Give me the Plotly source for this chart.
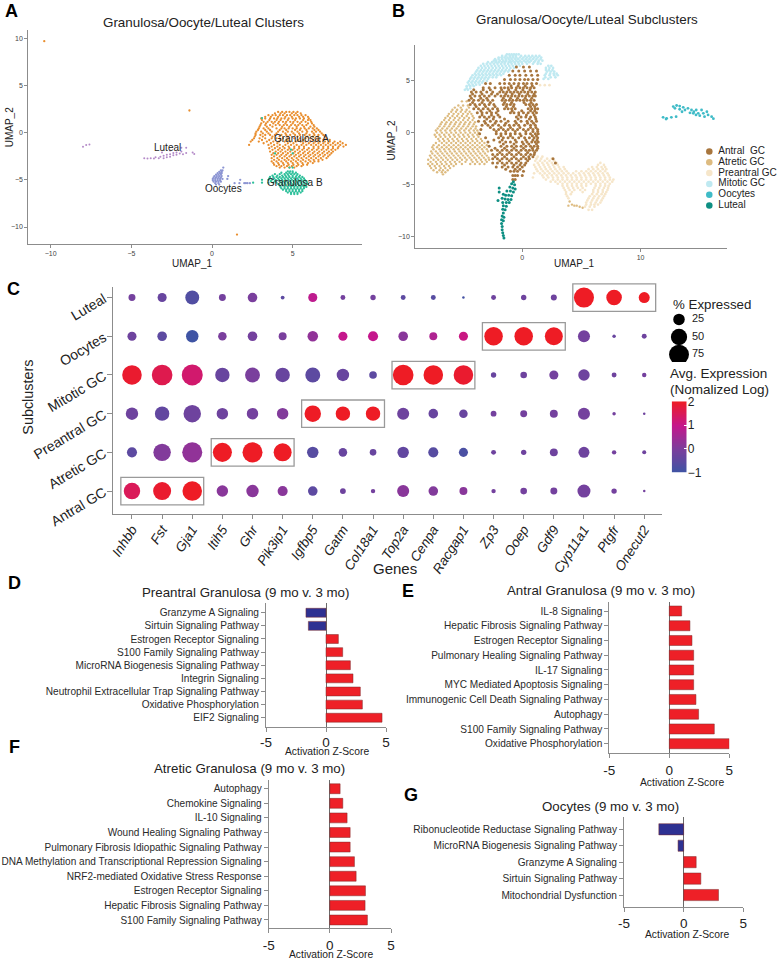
import plotly.graph_objects as go

W, H = 779, 960
FONT = "Liberation Sans"
INK = "#222222"
AXIS = "#8c8c8c"

# ---------- Panel A: UMAP points, as {UMAP_2: [UMAP_1, ...]} ----------
a_granulosa_a = {
 2.2:[4.1,4.35,4.6,4.8,5.05,5.3],
 2.05:[3.9,4.25,4.5,4.95,5.2,5.5],
 1.85:[3.5,3.75,3.95,4.2,4.4,4.65,4.85,5.1,5.3,5.55,5.8],
 1.68:[3.3,3.65,4.1,4.55,4.95,5.4,5.65,5.95],
 1.5:[3.05,3.3,3.6,3.85,4.05,4.3,4.5,4.75,5,5.2,5.45,5.7,6],
 1.33:[3.1,3.55,4,4.25,4.7,5.15,5.65,5.95,6.1],
 1.15:[3.2,3.45,3.7,3.9,4.15,4.4,4.6,4.85,5.05,5.3,5.55,5.8,6.15],
 .98:[3.05,3.35,3.8,4.1,4.55,5,5.45,5.95,6.2],
 .8:[3,3.3,3.6,3.95,4.2,4.45,4.65,4.9,5.15,5.35,5.6,5.85,6.3],
 .63:[2.95,3.4,3.75,4.35,4.8,5.25,5.7,6.1,6.35],
 .45:[2.9,3.2,3.5,4,4.3,4.5,4.75,5,5.25,5.5,5.75,6,6.25,6.5],
 .28:[2.85,3.3,3.6,4.2,4.6,5.15,5.45,5.85,6.35,6.6],
 .1:[2.75,3.05,3.4,3.7,4.1,4.4,4.7,4.95,5.3,5.6,5.9,6.2,6.45,6.7],
 -.08:[2.7,3.15,3.5,4,4.55,5.05,5.4,5.85,6.3,6.8],
 -.25:[2.7,3,3.3,3.6,3.9,4.3,4.6,4.85,5.15,5.45,5.75,6.05,6.35,6.6,6.9],
 -.42:[2.65,3.15,3.75,4.2,4.7,5.3,5.9,6.25,6.55,7],
 -.6:[2.6,2.95,3.3,3.7,4,4.4,4.75,5.1,5.45,5.8,6.1,6.4,6.7,7.1],
 -.78:[2.5,3.1,3.55,4.25,4.65,5.35,5.65,6.25,6.55,6.9,7.3],
 -.95:[2.4,2.9,3.4,3.8,4.15,4.5,4.85,5.2,5.5,5.8,6.1,6.4,6.7,7,7.3,7.6,7.95],
 -1.12:[3.2,3.65,4.05,4.7,5.05,5.65,6,6.3,6.6,6.9,7.2,7.5,7.8,8.1],
 -1.3:[2.3,3.5,3.85,4.2,4.55,4.9,5.25,5.55,5.85,6.15,6.45,6.75,7.05,7.35,7.65,7.95,8.3],
 -1.48:[3.7,4.05,4.4,4.75,5.1,5.4,5.7,6.3,6.6,6.9,7.2,7.5,7.85,8.15],
 -1.65:[3.55,3.9,4.2,4.5,4.8,5.1,5.4,5.7,6,6.3,6.6,6.9,7.2,7.5,7.8],
 -1.82:[3.75,4.1,4.35,4.7,5,5.3,5.6,5.9,6.2,6.5,6.8,7.1,7.4,7.65],
 -2:[3.6,3.95,4.25,4.55,4.85,5.15,5.45,5.75,6.05,6.35,6.65,6.95,7.25,7.5],
 -2.18:[3.8,4.1,4.4,4.7,5.05,5.35,5.65,5.95,6.25,6.55,6.85,7.15,7.4],
 -2.35:[3.7,4,4.3,4.6,4.9,5.2,5.5,5.8,6.1,6.4,6.7,7,7.3],
 -2.52:[3.85,4.2,4.5,4.8,5.1,5.4,5.7,6,6.3,6.6,6.9,7.2],
 -2.7:[3.7,4.05,4.35,4.65,4.95,5.25,5.55,5.85,6.15,6.45,6.75,7.1],
 -2.88:[3.85,4.15,4.5,4.75,5.05,5.35,5.65,6,6.3,6.6,6.85],
 -3.05:[3.7,4,4.3,4.6,4.9,5.2,5.5,5.8,6.1,6.35,6.6],
 -3.22:[3.8,4.1,4.4,4.7,5,5.3,5.6,5.95,6.25],
 -3.4:[3.85,4.15,4.45,4.75,5.05,5.35,5.65,5.9],
 -3.55:[4,4.3,4.65,4.95,5.25,5.55],
 -3.7:[4.2,4.5,4.8,5.1],
 9.7:[-10.4], 2.35:[-1.4], -10.8:[1.55],
}
a_granulosa_b = {
 -3.7:[4.8,5], -4.1:[4.7,4.85,5],
 -4.25:[4.3,4.6,4.8,5,5.2],
 -4.4:[3.9,4.2,4.5,4.7,4.9,5.1,5.3],
 -4.55:[3.75,4.05,4.35,4.55,4.75,5,5.25,5.45],
 -4.7:[3.6,3.8,4,4.2,4.4,4.6,4.8,5,5.2,5.4,5.6],
 -4.85:[3.55,3.85,4.1,4.3,4.5,4.7,4.9,5.1,5.3,5.5,5.7],
 -5:[3.1,3.5,3.7,3.95,4.15,4.35,4.55,4.75,4.95,5.15,5.35,5.55,5.75],
 -5.15:[3.65,3.9,4.2,4.4,4.6,4.85,5.05,5.25,5.45,5.65,5.85],
 -5.3:[2.55,3.1,3.5,3.8,4,4.3,4.5,4.7,4.9,5.1,5.3,5.5,5.7,5.9],
 -5.45:[4.1,4.35,4.55,4.75,4.95,5.15,5.35,5.55,5.75,5.95],
 -5.6:[4.2,4.4,4.6,4.8,5,5.2,5.4,5.6,5.8],
 -5.75:[4.25,4.5,4.7,4.9,5.1,5.3,5.5,5.7,5.85],
 -5.9:[4.3,4.5,4.7,4.9,5.1,5.3,5.5,5.7],
 -6.05:[4.4,4.6,4.8,5,5.2,5.4,5.6],
 -6.2:[4.6,4.8,5,5.2,5.4,5.6],
 -6.35:[4.7,4.9,5.1,5.3,5.5],
 -6.5:[4.9,5.1,5.3],
 1.55:[3.1], -2.2:[5,3.9], -1.8:[4.9],
}
a_oocytes = {
 -3.7:[.7], -4:[.55,.65], -4.15:[.45,.6], -4.3:[.35,.5,.6], -4.45:[.25,.4,.55], -4.6:[.15,.3,.45,.6,1],
 -4.75:[.1,.25,.4,.55], -4.9:[.05,.2,.35,.5,.65,.95], -5:[1.75], -5.05:[.05,.2,.35,.5], -5.2:[.1,.25,.4,.55],
 -5.35:[.2,.4,1.4,1.7,2,2.1,2.2,2.35], -5.5:[.25,.45],
}
a_luteal = {
 -2.75:[-4,-3.6], -2.7:[-4.2,-3.8,-3.3,-3], -2.6:[-3.5,-2.8], -2.55:[-3.2,-2.6],
 -2.45:[-3], -2.4:[-2.4], -2.35:[-2.8,-2.2], -2.3:[-2.6,-1.8], -2.25:[-1.1],
 -2.2:[-2], -2.15:[-2.4,-1.6], -2.1:[-2.2,-3.1,-1.2], -2:[-1.9], -1.9:[-2.6],
 -1.6:[-1.9,-1.6], -1.5:[-8], -1.3:[-7.8], -1.25:[-7.6],
}

# ---------- Panel B: UMAP points, as {UMAP_2: [UMAP_1, ...]} ----------
b_antral = {
 6.3:[-.5,.1,.6], 5.9:[-.8,-.3,.2,.7,1.2], 5.5:[-1.1,-.6,-.2,.3,.8,1.3],
 5.1:[-1.5,-1,-.6,-.2,.2,.5,.9,1.3],
 4.7:[-3.1,-2.7,-1.9,-1.5,-1.1,-.7,-.3,.1,.4,.8,1.2],
 4.5:[-.95,-.35,.25,.85],
 4.3:[-3.3,-2.8,-2.3,-1.8,-1.5,-1.2,-.9,-.5,-.2,.1,.4,.7,1],
 4.1:[-4.1,-3.3,-2.7,-1.75,-1.15,-.55,.05,.65],
 3.9:[-4.3,-3.9,-3.5,-3,-2.5,-1.9,-1.6,-1.3,-1,-.7,-.4,-.1,.2,.5,.8,1.1],
 3.7:[-4.2,-3.4,-2.6,-2.1,-1.4,-.85,-.25,.45,1],
 3.5:[-4.4,-4,-3.6,-3.2,-2.8,-2.3,-1.8,-1.5,-1.2,-.9,-.6,-.3,0,.3,.6,.9,1.1],
 3.3:[-4.3,-3.5,-3,-1.6,-1,-.4,.25,.8],
 3.1:[-4.5,-4.1,-3.7,-3.3,-2.9,-2.5,-1.7,-1.4,-1.1,-.8,-.5,-.2,.1,.4,.7,1],
 2.9:[-4.2,-3.4,-2.7,-1.5,-.9,.15,.75],
 2.7:[-4.4,-4,-3.6,-3.2,-2.8,-2.4,-1.6,-1.3,-1,-.7,.3,.6,.9,1.2],
 2.5:[-3.9,-3.1,-2.3,-1.35,-.75,.7,1.05],
 2.3:[-4.1,-3.7,-3.3,-2.9,-2.5,-2.1,-1.5,-1.2,-.9,-.6,.5,.8,1.1,1.3],
 2.1:[-3.5,-2.75,-2.05,-.85,-.05,.7,1.05],
 1.9:[-3.8,-3.4,-3,-2.6,-2.2,-1,-.7,-.3,.1,.5,.9,1.2],
 1.7:[-3.4,-2.6,-2.05,-.3,.35,1],
 1.5:[-3.6,-3.2,-2.8,-2.4,-1.9,-.5,-.1,.3,.7,1.1],
 1.3:[-3,-2.45,-1.5,-.35,.6,1.15],
 1.1:[-3.7,-3.2,-2.7,-2.2,-1.8,-1.2,-.6,-.1,.4,.8,1.2],
 .9:[-3.1,-2.3,-1.4,-.5,.45,.95],
 .7:[-3.4,-2.9,-2.5,-2,-1.5,-1.1,-.7,-.3,.2,.7,1.1],
 .5:[-2.7,-1.8,-1,-.2,.7,1.15],
 .3:[-3.5,-2.4,-2,-1.6,-1.2,-.8,-.4,.1,.5,.9,1.3],
 .1:[-2.2,-1.4,-.6,.3,.9,1.3],
 -.1:[-3.6,-2.2,-1.8,-1.4,-1,-.6,-.2,.3,.7,1.1,1.35],
 -.3:[-1.8,-1,-.1,.85,1.2],
 -.5:[-3.1,-2,-1.6,-1.2,-.8,-.3,.2,.6,1,1.3],
 -.7:[-2.4,-1.7,-.6,.3,.9,1.25],
 -.9:[-2.9,-1.9,-1.4,-1,-.5,0,.4,.8,1.1,1.35],
 -1.1:[-1.6,-.7,.1,.55,1.2],
 -1.3:[-2.8,-1.8,-1.3,-.9,-.5,-.1,.3,.7,1,1.3],
 -1.5:[-2.3,-1.5,-.7,.1,.85,1.3],
 -1.7:[-2.6,-2.1,-1.7,-1.3,-.9,-.5,-.1,.3,.6,.9,1.2],
 -1.9:[-1.9,-1.1,-.3,.45,1.05],
 -2.1:[-2.5,-2.1,-1.7,-1.3,-.9,-.5,-.1,.3,.7,1],
 -2.3:[-2.3,-1.5,-.7,.1,.55,.9],
 -2.5:[-2.5,-2.1,-1.7,-1.3,-.9,-.5,-.1,.3,.6,2.6],
 -2.7:[-1.9,-1.1,-.3,.45],
 -2.9:[-2.5,-2.1,-1.7,-1.3,-.9,-.5,-.1,.3,2.8],
 -3.1:[-1.5,-.7,-.2,.2],
 -3.3:[-2.2,-1.7,-1.2,-.8,-.4,0],
 -3.5:[-1.4,-.6,-.2],
 -3.7:[-1,-.7,-.4,.1], -4.1:[-.8,-.6,-.4,0], -4.5:[-.8,-.6],
}
b_atretic = {
 3:[-5.1,-4.7], 2.6:[-5.4,-5,-4.6], 2.4:[-5.7,-5.2,-4.5], 2.2:[-5.9,-5.5,-5.1,-4.7],
 2:[-6,-5.6,-5.2,-4.8,-4.45],
 1.8:[-6.2,-5.8,-5.4,-5,-4.6,-4.3],
 1.6:[-6.3,-5.9,-5.5,-5.1,-4.7,-4.2],
 1.4:[-6.5,-6.1,-5.7,-5.3,-4.9,-4.5,-4.1],
 1.2:[-6.6,-6.2,-5.8,-5.4,-5,-4.6,-4.2],
 1:[-6.8,-6.4,-6,-5.6,-5.2,-4.8,-4.4,-4],
 .8:[-6.9,-6.5,-6.1,-5.7,-5.3,-4.9,-4.5,-4.1],
 .6:[-7,-6.6,-6.2,-5.8,-5.4,-5,-4.6,-4.2,-3.9],
 .4:[-7.15,-6.75,-6.35,-5.95,-5.55,-5.15,-4.75,-4.35,-3.95],
 .2:[-7.3,-6.9,-6.5,-6.1,-5.7,-5.3,-4.9,-4.5,-4.1,-3.8],
 0:[-7.2,-6.8,-6.4,-6,-5.6,-5.2,-4.8,-4.4,-4,-3.7],
 -.2:[-7.4,-7,-6.6,-6.2,-5.8,-5.4,-5,-4.6,-4.2,-3.8],
 -.4:[-7.3,-6.9,-6.5,-6.1,-5.7,-5.3,-4.9,-4.5,-4.1,-3.7],
 -.6:[-7.1,-6.7,-6.3,-5.9,-5.5,-5.1,-4.7,-4.3,-3.9,-3.5],
 -.8:[-7,-6.6,-6.2,-5.8,-5.4,-5,-4.6,-4.2,-3.8,-3.4],
 -1:[-7.3,-6.8,-6.4,-6,-5.6,-5.2,-4.8,-4.4,-4,-3.6,-3.2],
 -1.2:[-7.5,-7.05,-6.6,-6.2,-5.8,-5.4,-5,-4.6,-4.2,-3.8,-3.4,-3],
 -1.4:[-7.6,-7.2,-6.8,-6.4,-6,-5.6,-5.2,-4.8,-4.4,-4,-3.6,-3.2],
 -1.6:[-7.5,-7,-6.6,-6.2,-5.8,-5.4,-5,-4.6,-4.2,-3.8,-3.4,-3],
 -1.8:[-7.7,-7.3,-6.9,-6.5,-6.1,-5.7,-5.3,-4.9,-4.5,-4.1,-3.7,-3.3,-2.9],
 -2:[-7.6,-7.15,-6.75,-6.35,-5.95,-5.55,-5.15,-4.75,-4.35,-3.95,-3.55,-3.15],
 -2.2:[-7.8,-7.4,-7,-6.6,-6.2,-5.8,-5.4,-5,-4.6,-4.2,-3.8,-3.4,-3],
 -2.4:[-7.7,-7.25,-6.85,-6.45,-6.05,-5.65,-5.25,-4.85,-4.45,-4.05,-3.65,-3.25,-2.85],
 -2.6:[-7.95,-7.5,-7.1,-6.7,-6.3,-5.9,-5.5,-5.1,-4.7,-4.3,-3.9,-3.5,-3.1,-2.8],
 -2.8:[-7.75,-7.3,-6.9,-6.5,-6.1,-5.7,-5.3,-4.8,-4.2,-3.8,-3.4,-3],
 -3:[-7.95,-7.6,-7.2,-6.8,-6.4,-6,-5.6,-5.1,-4.4,-4,-3.6,-3.2],
 -3.2:[-7.8,-7.4,-7,-6.6,-6.2,-5.8],
 -3.4:[-7.7,-7.3,-6.9,-6.5,-6.1], -3.6:[-7.5,-7,-6.7,-6.3], -3.8:[-7.2,-6.8,-6.5], -4:[-6.7],
 -6.6:[4], -6.9:[4.2], -7:[3.9,4.4,4.6], -7.1:[4.85], -7.2:[5.1],
}
b_preantral = {
 4.55:[1.5,1.9,2.3],
 -2.3:[1.3,1.7], -2.5:[1.2,1.6,2.1,2.5], -2.7:[1.1,1.5,1.9,2.3,2.7],
 -2.9:[1.3,1.7,2.1,2.5,2.9,6.6],
 -3.1:[1,1.4,1.8,2.2,2.6,3,6.4,6.9],
 -3.3:[1.1,1.5,1.9,2.3,2.7,3.1,3.5,5.9,6.3,6.7,7],
 -3.5:[1.2,1.6,2,2.4,2.8,3.2,3.6,5.6,6,6.4,6.8,7.1],
 -3.7:[1.3,1.75,2.15,2.55,2.95,3.35,3.75,4.55,5,5.4,5.8,6.2,6.6,7],
 -3.9:[1,1.5,1.9,2.3,2.7,3.1,3.5,3.9,4.3,4.8,5.2,5.6,6,6.4,6.8,7.2],
 -4.1:[1.7,2.1,2.5,2.9,3.3,3.7,4.1,4.5,4.9,5.3,5.7,6.1,6.5,6.9,7.3],
 -4.3:[.9,1.8,2.2,2.6,3,3.4,3.8,4.2,4.6,5,5.4,5.8,6.2,6.6,7,7.4],
 -4.5:[2,2.6,3,3.4,3.8,4.2,4.6,5,5.4,5.8,6.2,6.6,7,7.4,7.7],
 -4.7:[2.4,2.8,3.2,3.6,4,4.4,4.8,5.2,5.6,6,6.4,6.8,7.2,7.6],
 -4.9:[3,3.4,3.8,4.2,4.6,5,5.4,5.8,6.2,6.6,7,7.4],
 -5.1:[3.4,3.8,4.2,4.6,5,5.4,6.2,6.6,7,7.3],
 -5.3:[3.5,3.9,4.3,4.7,5.1,6.1,6.5,6.9,7.25],
 -5.5:[3.6,4,4.4,4.9,5.3,6,6.4,6.8,7.2],
 -5.7:[3.7,4.2,5.1,6,6.4,6.8,7.1],
 -5.9:[3.7,4.1,5.9,6.3,6.7,7], -6.1:[3.8,5.7,6.1,6.5,6.9], -6.3:[3.9,5.6,6,6.4,6.8],
 -6.5:[5.5,5.9,6.3,6.7], -6.7:[5.4,5.8,6.2,6.6], -6.9:[5.4,5.8,6.1,6.4], -7.1:[5.3,5.7,6.1], -7.4:[5.6,5.9],
}
b_mitotic = {
 7.5:[-1.3,-1.1,-.9,-.7,-.5,-.3],
 7.35:[-1.7,-1.4,-1.05,-.8,-.55,-.1,.25,.55,.85,1.15,1.45],
 7.2:[-2,-1.75,-1.5,-1.25,-1,-.75,-.5,-.2,.1,.4,.7,1,1.3,1.6],
 7.05:[-2.3,-2,-1.7,-1.4,-1.15,-.9,-.6,-.35,0,.3,.6,.9,1.2,1.55],
 6.9:[-2.4,-2.2,-1.9,-1.6,-1.35,-1.05,-.8,-.5,-.2,.15,.45,.75,1.1,1.4,1.7],
 6.75:[-2.9,-2.55,-2.25,-2,-1.7,-1.45,-1.15,-.95,-.65,-.35,-.05,.3,.6,1,1.35],
 6.6:[-3.3,-3,-2.7,-2.4,-2.1,-1.8,-1.5,-1.2,-.9,-.6,-.3,0,.4,.9,1.3,1.55],
 6.4:[-3.5,-3.2,-2.9,-2.6,-2.3,-2,-1.7,-1.4,-1.1,-.8,-.5,-.2,2.2,2.45],
 6.2:[-3.7,-3.4,-3.1,-2.8,-2.5,-2.2,-1.9,-1.6,-1.3,-1,-.7,2,2.3,2.6],
 6:[-3.8,-3.5,-3.2,-2.9,-2.6,-2.3,-2,-1.7,-1.4,-1.1,2,2.25,2.55],
 5.85:[-3.9,-3.6,-3.3,-3,-2.7,-2.4,-2.1,-1.8,-1.5,-1.2,2.1,2.4,2.7],
 5.65:[-4,-3.7,-3.4,-3.1,-2.8,-2.5,-2.2,-1.9,-1.6,2,2.35,2.65,2.9],
 5.5:[-4.2,-3.9,-3.6,-3.3,-3,-2.7,-2.4,-2.1,-1.8,1.9,2.3,2.7,3],
 5.3:[-4.3,-4,-3.7,-3.4,-3.1,-2.8,-2.5,-2.2,1.95,2.4,2.8],
 5.15:[-4.4,-4.1,-3.8,-3.5,-3.2,-2.9,1.8,2.2],
 4.95:[-4.5,-4.2,-3.9,-3.6,-3.3,-3],
 4.8:[-4.6,-4.3,-4,-3.7,-3.4], 4.6:[-4.5,-4.2,-3.9,-3.6], 4.45:[-4.7,-4.4,-4.1], 4.25:[-4.7,-4.4], 4.1:[-4.85,-4.6],
}
b_oocytes = {
 2.6:[13.04], 2.55:[13.3], 2.5:[12.76], 2.43:[13.6], 2.33:[12.9,14], 2.24:[13.3],
 2.17:[13.75,14.3,14.7,15.15], 2:[15.6,14.5,13.5], 1.9:[14.17], 1.85:[14.45,14.87,15.3],
 1.7:[14.68,15.7], 1.63:[15], 1.53:[13,15.4,16], 1.47:[11.9,12.6],
 1.37:[12.2], 1.34:[16.15], 1.3:[12.15],
}
b_luteal = {
 -4.7:[-.75], -4.9:[-.9], -5:[-.65], -5.2:[-1.05], -5.3:[-.8,-1.95], -5.4:[-.6],
 -5.6:[-1.3,-1], -5.7:[-.75,-1.95], -5.9:[-1.6], -6:[-1.4,-1.15], -6.05:[-.9],
 -6.3:[-1.7], -6.35:[-1.45], -6.4:[-1.2,-.95], -6.5:[-2.05], -6.7:[-1.65,-1.35,-1.1],
 -7:[-1.6], -7.05:[-1.35], -7.35:[-1.65], -7.4:[-1.45], -7.7:[-1.6], -8:[-1.7],
 -8.1:[-1.55], -8.35:[-1.75], -8.45:[-1.6], -8.7:[-1.75], -9:[-1.7], -9.3:[-1.7],
 -9.6:[-1.65], -9.85:[-1.6], -10.1:[-1.55],
}
subcluster_names = ["Antral\u00a0 GC", "Atretic GC", "Preantral GC", "Mitotic GC", "Oocytes", "Luteal"]

# ---------- Panel C: dot plot ----------
genes = ["Inhbb","Fst","Gja1","Itih5","Ghr","Pik3ip1","Igfbp5","Gatm","Col18a1","Top2a",
         "Cenpa","Racgap1","Zp3","Ooep","Gdf9","Cyp11a1","Ptgfr","Onecut2"]
subclusters = ["Antral GC","Atretic GC","Preantral GC","Mitotic GC","Oocytes","Luteal"]
pct_expressed = [
 [56,67,79,27,32,21,19,7,4,30,19,13,4,9,10,35,6,1.3],
 [21,63,83,75,83,67,27,15,9,27,21,17,5,6,13,25,4,3.3],
 [32,43,63,27,27,27,56,43,43,30,19,15,7,10,13,30,2.5,1.3],
 [79,88,91,43,46,43,46,32,12,88,79,79,6,9,17,27,5,4],
 [17,19,32,15,19,13,23,17,21,19,13,17,71,71,67,30,2.5,5],
 [10,17,40,10,19,3,17,5,6,5,5,1.3,5,6,7.5,83,50,25],
]
avg_expression = [
 [1.5,1.9,2,.2,.2,.2,-.5,-.2,-.1,.2,.1,.2,-.1,-.1,-.1,-.1,-.1,-.1],
 [-.5,.1,.3,2,2,2,-.6,-.3,-.3,-.4,-.6,-.8,-.2,-.2,-.2,-.2,-.1,-.2],
 [-.2,-.4,-.2,-.2,-.1,.1,2,2,2,-.2,-.3,-.3,-.1,-.1,-.1,-.1,-.1,-.2],
 [1.9,1.6,1.3,-.3,0,-.3,-.5,-.3,-.5,2,2,1.9,-.3,-.2,-.1,-.2,-.2,-.1],
 [-.2,-.5,-1,0,-.1,0,.3,1,1,.2,.7,1.1,2,2,2,-.1,-.3,-.2],
 [-.1,-.3,-.7,-.1,0,-.5,.9,-.1,-.1,-.5,-.6,-.9,-.2,-.2,-.2,2,2,2],
]
highlight_groups = [(0,0,2),(1,3,5),(2,6,8),(3,9,11),(4,12,14),(5,15,17)]
size_legend_pct = [25,50,75]
scale_levels = [-1,-.75,-.5,-.25,0,.25,.5,.75,1,1.25,1.5,1.75,2]

# ---------- Panels D-G: activation z-scores ----------
d_paths = ["Granzyme A Signaling","Sirtuin Signaling Pathway","Estrogen Receptor Signaling",
           "S100 Family Signaling Pathway","MicroRNA Biogenesis Signaling Pathway","Integrin Signaling",
           "Neutrophil Extracellular Trap Signaling Pathway","Oxidative Phosphorylation","EIF2 Signaling"]
d_vals = [-1.67,-1.47,1.03,1.39,2.03,2.25,2.86,3.03,4.67]
e_paths = ["IL-8 Signaling","Hepatic Fibrosis Signaling Pathway","Estrogen Receptor Signaling",
           "Pulmonary Healing Signaling Pathway","IL-17 Signaling","MYC Mediated Apoptosis Signaling",
           "Immunogenic Cell Death Signaling Pathway","Autophagy","S100 Family Signaling Pathway",
           "Oxidative Phosphorylation"]
e_vals = [1.03,1.72,1.89,2.03,2.03,2.03,2.22,2.44,3.75,5.0]
f_paths = ["Autophagy","Chemokine Signaling","IL-10 Signaling","Wound Healing Signaling Pathway",
           "Pulmonary Fibrosis Idiopathic Signaling Pathway","DNA Methylation and Transcriptional Repression Signaling",
           "NRF2-mediated Oxidative Stress Response","Estrogen Receptor Signaling",
           "Hepatic Fibrosis Signaling Pathway","S100 Family Signaling Pathway"]
f_vals = [.84,1.06,1.41,1.66,1.66,2.01,2.15,2.91,2.88,3.07]
g_paths = ["Ribonucleotide Reductase Signaling Pathway","MicroRNA Biogenesis Signaling Pathway",
           "Granzyme A Signaling","Sirtuin Signaling Pathway","Mitochondrial Dysfunction"]
g_vals = [-2.08,-.47,1.05,1.44,2.92]


def flat(rows):
    xs, ys = [], []
    for y, row in rows.items():
        for x in row:
            xs.append(x); ys.append(y)
    return xs, ys


fig = go.Figure()
layout = {}
axis_no = [0]


def add_axes(left, right, top, bottom, xr, yr, **kw):
    axis_no[0] += 1
    n = axis_no[0]
    sx = "" if n == 1 else str(n)
    xa = dict(domain=[left/W, right/W], range=xr, anchor="y"+sx, showgrid=False, zeroline=False,
              showline=True, linecolor=AXIS, linewidth=1, ticks="outside", tickcolor=AXIS, ticklen=3,
              tickfont=dict(family=FONT, size=7, color="#444444"), fixedrange=True)
    ya = dict(domain=[1-bottom/H, 1-top/H], range=yr, anchor="x"+sx, showgrid=False, zeroline=False,
              showline=True, linecolor=AXIS, linewidth=1, ticks="outside", tickcolor=AXIS, ticklen=3,
              tickfont=dict(family=FONT, size=7, color="#444444"), fixedrange=True)
    xa.update(kw.get("x", {})); ya.update(kw.get("y", {}))
    layout["xaxis"+sx] = xa
    layout["yaxis"+sx] = ya
    return "x"+sx, "y"+sx


annotations = []


def text(px, py, s, size, color=INK, bold=False, angle=0, anchor="center"):
    annotations.append(dict(xref="paper", yref="paper", x=px/W, y=1-py/H, text=f"<b>{s}</b>" if bold else s,
                            showarrow=False, xanchor=anchor, yanchor="middle", textangle=angle,
                            font=dict(family=FONT, size=size, color=color)))


def scatter(xa, ya, rows, color, size):
    xs, ys = flat(rows)
    fig.add_trace(go.Scatter(x=xs, y=ys, xaxis=xa, yaxis=ya, mode="markers", showlegend=False, hoverinfo="skip",
                             marker=dict(color=color, size=size, line=dict(width=0))))


# Panel A
xa, ya = add_axes(28.3, 362, 30, 244, [-11.39, 9.3], [-11.8, 10.88],
                  x=dict(tickvals=[-10,-5,0,5]), y=dict(tickvals=[-10,-5,0,5,10]))
scatter(xa, ya, a_granulosa_a, "#E98E2E", 2.3)
scatter(xa, ya, a_granulosa_b, "#2FC09B", 2.3)
scatter(xa, ya, a_oocytes, "#8C95D3", 2.3)
scatter(xa, ya, a_luteal, "#B48AC8", 2)
for s, x, y in [("Granulosa A",5.55,-.6),("Granulosa B",5.17,-5.26),("Luteal",-2.77,-1.52),("Oocytes",.7,-5.97)]:
    annotations.append(dict(xref=xa, yref=ya, x=x, y=y, text=s, showarrow=False,
                            font=dict(family=FONT, size=10, color="#222222")))
text(203, 22, "Granulosa/Oocyte/Luteal Clusters", 13.4)
text(192, 263, "UMAP_1", 10)
text(9.3, 127, "UMAP_2", 10, angle=-90)

# Panel B
xa, ya = add_axes(415.3, 727, 45, 247.7, [-9.04, 17.3], [-11.03, 8.4],
                  x=dict(tickvals=[0,10]), y=dict(tickvals=[-10,-5,0,5]))
b_colors = ["#A8763E","#DDBB80","#F6E6CA","#BFE9F1","#3FBBC7","#0E8F83"]
for rows, c, s in zip([b_atretic,b_preantral,b_mitotic,b_antral,b_oocytes,b_luteal],
                      [b_colors[1],b_colors[2],b_colors[3],b_colors[0],b_colors[4],b_colors[5]],
                      [2.4,2.7,2.7,3,2.8,3]):
    scatter(xa, ya, rows, c, s)
text(587, 19.3, "Granulosa/Oocyte/Luteal Subclusters", 13.4)
text(574.3, 263.3, "UMAP_1", 10)
text(391.5, 141, "UMAP_2", 10, angle=-90)
# Panel B key
xa, ya = add_axes(704, 779, 146, 211, [0, 75], [5.5, -0.5],
                  x=dict(visible=False), y=dict(visible=False))
fig.add_trace(go.Scatter(x=[5.3]*6, y=list(range(6)), xaxis=xa, yaxis=ya, mode="markers+text", showlegend=False,
                         hoverinfo="skip", text=["&#8201;&#8201;"+s for s in subcluster_names], textposition="middle right",
                         textfont=dict(family=FONT, size=10, color=INK),
                         marker=dict(color=b_colors, size=6.5, line=dict(width=0))))

# Panel C: an invisible taller copy of the axes carries the boxes, so the top box is not clipped
box_x, box_y = add_axes(112.7, 662.3, 282, 514.3, [-0.64, 17.6], [-0.6, 5.406],
                        x=dict(visible=False), y=dict(visible=False))
xa, ya = add_axes(112.7, 662.3, 286.7, 514.3, [-0.64, 17.6], [-0.6, 5.28],
    x=dict(tickvals=list(range(18)), ticktext=genes, tickangle=-57, ticklen=4, ticklabelstandoff=-3,
           tickfont=dict(family=FONT, size=13.5, style="italic", color=INK)),
    y=dict(tickvals=list(range(6)), ticktext=subclusters, tickangle=-31, ticklen=5,
           tickfont=dict(family=FONT, size=14, color=INK)))
colorscale = [[0,"#3F54A4"],[1/3,"#7A3F9D"],[2/3,"#C5178C"],[1,"#EE1C25"]]
dot_x, dot_y, dot_s, dot_c = [], [], [], []
for r, (pcts, vals) in enumerate(zip(pct_expressed, avg_expression)):
    for g, (p, v) in enumerate(zip(pcts, vals)):
        dot_x.append(g); dot_y.append(r); dot_s.append(2.2*p**0.5); dot_c.append(v)
fig.add_trace(go.Scatter(x=dot_x, y=dot_y, xaxis=xa, yaxis=ya, mode="markers", showlegend=False, hoverinfo="skip",
    marker=dict(size=dot_s, sizemode="diameter", color=dot_c, cmin=-1, cmax=2, colorscale=colorscale,
                opacity=1, showscale=False, line=dict(width=0))))
shapes = []
for r, g0, g1 in highlight_groups:
    shapes.append(dict(type="rect", xref=box_x, yref=box_y, x0=g0-0.37, x1=g1+0.38, y0=r-0.355, y1=r+0.355,
                       line=dict(color="#9a9a9a", width=1.3), fillcolor="rgba(0,0,0,0)", layer="below"))
text(395, 568, "Genes", 15)
text(28, 397.7, "Subclusters", 14.4, angle=-90)
text(671, 304, "% Expressed", 13.3, anchor="left")
text(667.7, 373, "Avg. Expression", 13.5, anchor="left")
text(667.7, 389, "(Nomalized Log)", 13.5, anchor="left")
# Size key
xa, ya = add_axes(664, 720, 312, 362, [0, 56], [85.5, 14.5], x=dict(visible=False), y=dict(visible=False))
fig.add_trace(go.Scatter(x=[15]*3, y=size_legend_pct, xaxis=xa, yaxis=ya, mode="markers", showlegend=False,
                         hoverinfo="skip", marker=dict(color="black", opacity=1, size=[2.3*p**0.5 for p in size_legend_pct],
                                                       line=dict(width=0))))
fig.add_trace(go.Scatter(x=[28]*3, y=size_legend_pct, xaxis=xa, yaxis=ya, mode="text", showlegend=False,
                         hoverinfo="skip", text=[str(p) for p in size_legend_pct], textposition="middle right",
                         textfont=dict(family=FONT, size=11, color=INK)))
# Colour key: a one-column heatmap over the expression scale
xa, ya = add_axes(671.7, 686.7, 401.3, 472.7, [0, 1], [-1, 2],
    x=dict(visible=False),
    y=dict(side="right", tickvals=[-1,0,1,2], ticks="inside", ticklen=3, tickcolor="white", showline=False,
           tickfont=dict(family=FONT, size=12, color=INK)))
fig.add_trace(go.Heatmap(x=[0,1], y=scale_levels, z=[[v,v] for v in scale_levels], xaxis=xa, yaxis=ya,
                         zmin=-1, zmax=2, colorscale=colorscale, showscale=False, zsmooth="best", hoverinfo="skip"))


# Bars
def bars(paths, vals, left, right, top, bottom, yr, title, tx, ty, zx, zy, standoff, label_size):
    xa, ya = add_axes(left, right, top, bottom, [-5, 5], yr,
        x=dict(tickvals=[-5,0,5], ticktext=["-5","0","5"], ticklen=4, ticklabelstandoff=standoff,
               tickfont=dict(family=FONT, size=13.5, color=INK), zeroline=True, zerolinecolor="#6a6a6a", zerolinewidth=1),
        y=dict(type="category", categoryorder="array", categoryarray=paths, ticklen=4,
               tickfont=dict(family=FONT, size=label_size, color="#2a2a2a")))
    fig.add_trace(go.Bar(x=vals, y=paths, xaxis=xa, yaxis=ya, orientation="h", showlegend=False, hoverinfo="skip",
                         marker=dict(color=["#EE2027" if v > 0 else "#2E3192" for v in vals],
                                     line=dict(width=0.5, color="#7a2a2a"))))
    text(tx, ty, title, 13.3)
    text(zx, zy, "Activation Z-Score", 10.3)


layout["bargap"] = .32
bars(d_paths, d_vals, 266, 386, 603.3, 727.3, [8.73,-0.72], "Preantral Granulosa (9 mo v. 3 mo)", 245, 592, 327, 751, -2, 10.1)
bars(e_paths, e_vals, 609.3, 729.3, 602.3, 753, [9.63,-0.59], "Antral Granulosa (9 mo v. 3 mo)", 601, 590.7, 682, 782.7, 1, 10.1)
bars(f_paths, f_vals, 268.7, 391, 780, 928.3, [9.57,-0.6], "Atretic Granulosa (9 mo v. 3 mo)", 249.7, 768.7, 330.7, 954.7, 0, 10.05)
bars(g_paths, g_vals, 624, 743.3, 817.3, 906.7, [4.71,-0.73], "Oocytes (9 mo v. 3 mo)", 610, 806.3, 687.3, 934.3, 0, 10.1)

for s, x, y in [("A",11.5,10.5),("B",398,10.5),("C",13,289),("D",14,583),("E",408,590.5),("F",14,747),("G",411,795)]:
    text(x, y, s, 18, color="black", bold=True)

layout.update(width=W, height=H, autosize=False, margin=dict(l=0, r=0, t=0, b=0, pad=0, autoexpand=False),
              paper_bgcolor="white", plot_bgcolor="rgba(0,0,0,0)", annotations=annotations, shapes=shapes,
              font=dict(family=FONT), showlegend=False)
fig.update_layout(**layout)
fig.write_html("out.html", config=dict(displayModeBar=False),
               post_script="document.body.style.margin='0';")
